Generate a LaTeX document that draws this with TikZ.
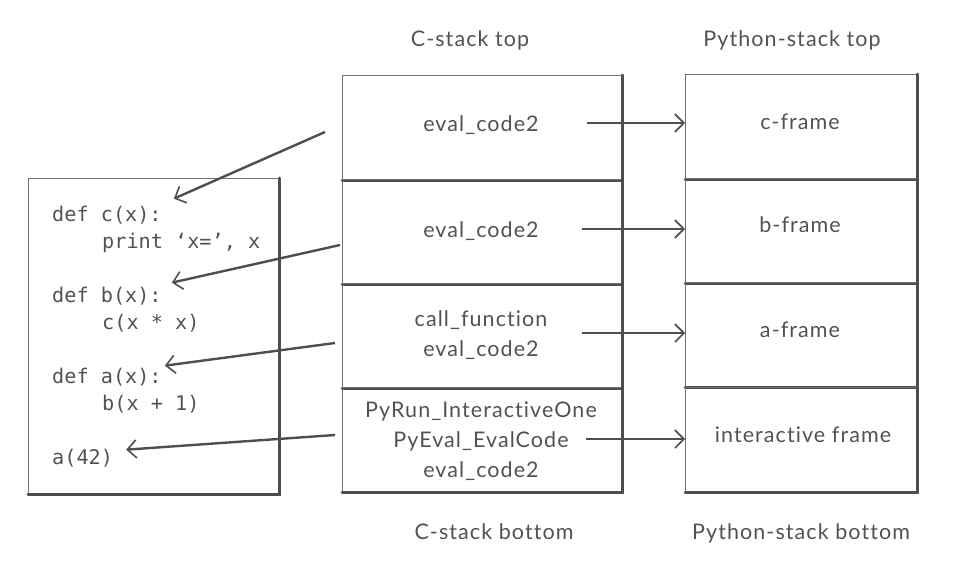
\documentclass[tikz,border=0pt]{standalone}
\usepackage{fontspec}
\setmainfont{Lato}[Ligatures={NoCommon},LetterSpace=5]
\newfontfamily\codefont{DejaVu Sans Mono}
\usetikzlibrary{arrows.meta,calc}
\definecolor{ink}{HTML}{4E4E4E}
\definecolor{txt}{HTML}{525252}
\begin{document}
\begin{tikzpicture}[x=1pt,y=-1pt,
  frame/.style={draw=ink!80, line width=1.4pt, inner sep=0pt, anchor=north west},
  shade/.style={draw=ink, line width=3pt, line cap=round},
  lbl/.style={text=txt, inner sep=0pt, anchor=base, font=\fontsize{21.5}{26}\selectfont},
  code/.style={text=txt, inner sep=0pt, anchor=base west, font=\codefont\fontsize{20.2}{24}\selectfont},
  arr/.style={draw=ink, line width=2.4pt, -{Straight Barb[length=9pt,width=18pt,line width=1.6pt]}}
]
\useasboundingbox (0,0) rectangle (953,573);

% C-stack frames
\foreach \i/\y in {1/75,2/179,3/283,4/387}{
  \node[frame, minimum width=279pt, minimum height=104pt] (cs\i) at (342,\y) {};
  \draw[shade] (cs\i.north east) -- (cs\i.south east) -- (cs\i.south west);
}
% Python-stack frames
\foreach \i/\y in {1/74,2/178,3/282,4/387}{
  \node[frame, minimum width=231pt, minimum height=104pt] (ps\i) at (685,\y) {};
  \draw[shade] (ps\i.north east) -- (ps\i.south east) -- (ps\i.south west);
}
% code box
\node[frame, minimum width=250pt, minimum height=315pt] (codebox) at (28,178) {};
\draw[shade] (codebox.north east) -- (codebox.south east) -- (codebox.south west);

% headings
\node[lbl] (ctop) at (470,46) {C-stack top};
\node[lbl] (ptop) at (792,46) {Python-stack top};
\node[lbl] (cbot) at (494,539) {C-stack bottom};
\node[lbl] (pbot) at (801,539) {Python-stack bottom};

% C-stack texts
\node[lbl] (c1a) at (481,131) {eval\_code2};
\node[lbl] (c2a) at (481,237) {eval\_code2};
\node[lbl] (c3a) at (481,326) {call\_function};
\node[lbl] (c3b) at (481,356) {eval\_code2};
\node[lbl] (c4a) at (481,417) {PyRun\_InteractiveOne};
\node[lbl] (c4b) at (481,447) {PyEval\_EvalCode};
\node[lbl] (c4c) at (481,477) {eval\_code2};

% Python-stack texts
\node[lbl] (p1) at (800,129) {c-frame};
\node[lbl] (p2) at (800,232) {b-frame};
\node[lbl] (p3) at (800,337) {a-frame};
\node[lbl] (p4) at (803,442) {interactive frame};

% code lines
\node[code] (lc)  at (52,221) {def c(x):};
\node[code] (lp)  at (102,248) {print\hbox to 12.16pt{}‘x=’,\hbox to 12.16pt{}x};
\node[code] (lb)  at (52,302) {def b(x):};
\node[code] (lcx) at (102,329) {c(x * x)};
\node[code] (la)  at (52,383) {def a(x):};
\node[code] (lbx) at (102,410) {b(x + 1)};
\node[code] (l42) at (52,464) {a(42)};

% C -> Python arrows
\coordinate (r1) at (587,123);
\coordinate (r2) at (582,229);
\coordinate (r3) at (582,333);
\coordinate (r4) at (586,439);
\draw[arr] (r1) -- (ps1.west |- r1);
\draw[arr] (r2) -- (ps2.west |- r2);
\draw[arr] (r3) -- (ps3.west |- r3);
\draw[arr] (r4) -- (ps4.west |- r4);

% C-stack -> code arrows
\coordinate (s1) at (325,132);
\coordinate (s2) at (340,245);
\coordinate (s3) at (335,343);
\coordinate (s4) at (335,435);
\coordinate (h1) at ($(lc.east)+(12,-16)$);
\coordinate (h2) at ($(lb.east)+(10,-13)$);
\coordinate (h3) at ($(la.east)+(3,-11)$);
\coordinate (h4) at ($(l42.east)+(13,-8)$);
\draw[arr] (s1) -- (h1);
\draw[arr] (s2) -- (h2);
\draw[arr] (s3) -- (h3);
\draw[arr] (s4) -- (h4);
\end{tikzpicture}
\end{document}
